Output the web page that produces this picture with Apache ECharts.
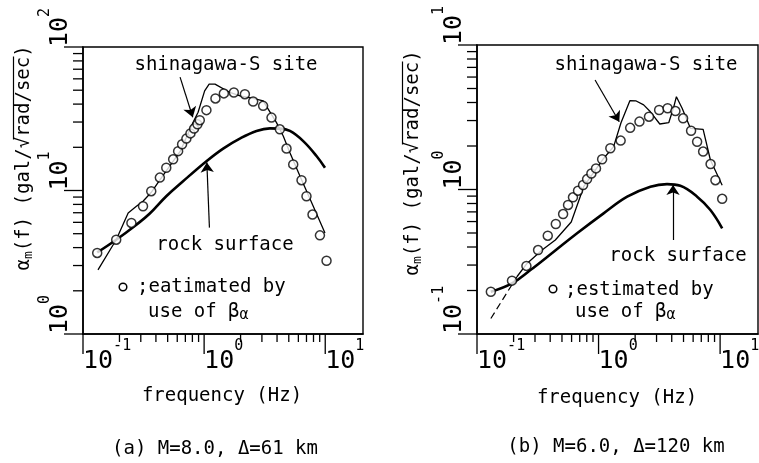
<!DOCTYPE html>
<html><head><meta charset="utf-8">
<script src="https://cdn.jsdelivr.net/npm/echarts@6/dist/echarts.min.js"></script>
<style>html,body{margin:0;padding:0;background:#fff}#c{width:759px;height:463px}</style>
</head><body><div id="c"></div>
<script>
// ---------- panel (a) M=8.0, Δ=61 km ----------
const aCircleFreq = [0.131,0.188,0.251,0.313,0.366,0.431,0.487,0.555,0.610,0.658,0.714,0.771,0.826,0.881,0.921,1.045,1.24,1.455,1.76,2.17,2.54,3.07,3.60,4.22,4.79,5.44,6.37,7.0,7.85,9.04,10.25];
const aCircleAmp  = [3.67,4.54,5.94,7.77,9.89,12.3,14.4,16.5,18.8,21.0,23.0,25.0,27.0,28.9,30.9,36.3,43.8,47.5,48.2,46.9,41.7,38.9,32.2,26.7,19.6,15.2,11.8,9.12,6.80,4.87,3.24];
const aSiteFreq = [0.133,0.188,0.236,0.276,0.313,0.365,0.433,0.634,0.811,0.892,1.01,1.10,1.23,1.63,1.98,2.54,3.07,3.96,4.50,5.11,6.18,7.96,9.95];
const aSiteAmp  = [2.80,4.54,6.98,7.77,8.42,9.68,11.9,18.7,29.9,35.1,49.5,55.1,55.1,48.2,45.6,43.8,42.1,29.7,24.0,18.3,12.6,7.77,5.06];
const aRockFreq = [0.131,0.188,0.276,0.356,0.487,0.670,1.045,1.436,1.97,2.71,3.49,4.22,5.11,6.58,8.47,9.95];
const aRockAmp  = [3.70,4.54,5.78,6.91,9.12,11.6,16.0,19.6,23.0,26.0,27.1,27.0,26.0,22.1,17.4,14.4];

// ---------- panel (b) M=6.0, Δ=120 km ----------
const bCircleFreq = [0.130,0.194,0.255,0.318,0.382,0.445,0.511,0.561,0.616,0.678,0.746,0.805,0.873,0.953,1.07,1.25,1.52,1.82,2.17,2.60,3.15,3.70,4.29,4.96,5.77,6.47,7.25,8.35,9.15,10.4];
const bCircleAmp  = [0.196,0.234,0.296,0.381,0.479,0.577,0.676,0.782,0.883,0.981,1.074,1.18,1.29,1.40,1.62,1.93,2.18,2.67,2.95,3.19,3.55,3.65,3.49,3.11,2.55,2.14,1.83,1.50,1.16,0.862];
const bSiteDashFreq = [0.130,0.213];
const bSiteDashAmp  = [0.128,0.249];
const bSiteFreq = [0.213,0.258,0.343,0.441,0.596,0.755,1.10,1.33,1.53,1.81,2.04,2.35,2.67,3.19,3.78,4.16,4.37,4.87,5.70,7.25,8.32,10.4];
const bSiteAmp  = [0.249,0.308,0.381,0.447,0.596,1.045,1.64,1.98,2.90,4.12,4.10,3.85,3.45,2.84,2.90,3.74,4.39,3.65,2.65,2.61,1.60,1.07];
const bRockFreq = [0.130,0.194,0.275,0.428,0.666,1.10,1.72,2.67,3.66,4.71,6.47,8.32,10.4];
const bRockAmp  = [0.196,0.224,0.277,0.371,0.498,0.684,0.892,1.045,1.09,1.06,0.892,0.721,0.539];

// ---------- axis ticks ----------
const xMajorTicks = [0.1, 1, 10];
const xMinorTicks = [0.2,0.3,0.4,0.5,0.6,0.7,0.8,0.9,2,3,4,5,6,7,8,9];
const aYMajorTicks = [1, 10, 100];
const aYMinorTicks = [2,3,4,5,6,7,8,9,20,30,40,50,60,70,80,90];
const bYMajorTicks = [0.1, 1, 10];
const bYMinorTicks = [0.2,0.3,0.4,0.5,0.6,0.7,0.8,0.9,2,3,4,5,6,7,8,9];
const tickBase = '10';

const MONO = '"DejaVu Sans Mono", monospace';
const zip = (a, b) => a.map((v, i) => [v, b[i]]);
function expLabel(v) { const e = Math.round(Math.log10(v)); return '{b|' + tickBase + '}{e|' + e + '}'; }
const labelRich = {
  b: {fontFamily: MONO, fontSize: 25, lineHeight: 44, color: '#000'},
  e: {fontFamily: MONO, fontSize: 15, lineHeight: 17, verticalAlign: 'top', color: '#000'}
};

function xAxisCfg(gi) {
  return {type: 'log', logBase: 10, gridIndex: gi, min: 0.1, max: 20.5,
    axisLine: {show: true, lineStyle: {color: '#000', width: 1.6}},
    axisTick: {show: false}, splitLine: {show: false}, minorTick: {show: false},
    axisLabel: {formatter: expLabel, align: 'left', verticalAlign: 'top', margin: 5,
      showMaxLabel: false, showMinLabel: true, rich: labelRich}};
}
function yAxisCfg(gi, mn, mx) {
  return {type: 'log', logBase: 10, gridIndex: gi, min: mn, max: mx,
    axisLine: {show: true, lineStyle: {color: '#000', width: 1.6}},
    axisTick: {show: false}, splitLine: {show: false}, minorTick: {show: false},
    axisLabel: {formatter: expLabel, rotate: 90, align: 'left', verticalAlign: 'bottom', margin: 1,
      showMaxLabel: true, showMinLabel: true, rich: labelRich}};
}
function tickSeries(gi, dim, majors, minors, fixedVal, majLen, minLen) {
  const mk = (v, L) => dim === 'x' ? [v, fixedVal, L] : [fixedVal, v, L];
  const data = majors.map(v => mk(v, majLen)).concat(minors.map(v => mk(v, minLen)));
  return {type: 'custom', xAxisIndex: gi, yAxisIndex: gi, silent: true, clip: false, z: 6,
    renderItem: function (params, api) {
      const p = api.coord([api.value(0), api.value(1)]);
      const L = api.value(2);
      const shape = dim === 'x' ? {x1: p[0], y1: p[1], x2: p[0], y2: p[1] + L}
                                : {x1: p[0] - L, y1: p[1], x2: p[0], y2: p[1]};
      return {type: 'line', shape: shape, style: {stroke: '#000', lineWidth: 1.3}};
    }, data: data};
}
function circles(gi, f, a) {
  return {type: 'scatter', xAxisIndex: gi, yAxisIndex: gi, data: zip(f, a), symbol: 'circle', symbolSize: 9,
    itemStyle: {color: '#fff', borderColor: '#000', borderWidth: 1.5}, z: 4, silent: true};
}
function line(gi, f, a, w, dash, smooth, arrows) {
  const s = {type: 'line', xAxisIndex: gi, yAxisIndex: gi, data: zip(f, a), symbol: 'none', smooth: smooth,
    lineStyle: {color: '#000', width: w, type: dash ? [7, 4] : 'solid'}, z: 3, silent: true};
  if (arrows) {
    s.markLine = {silent: true, symbol: ['none', 'arrow'], symbolSize: 10, label: {show: false},
      lineStyle: {color: '#000', width: 1.2, type: 'solid'},
      data: arrows.map(p => [{coord: p[0]}, {coord: p[1]}])};
  }
  return s;
}
function txt(x, y, s, align) {
  return {type: 'text', x: x, y: y, style: {text: s, font: '19px ' + MONO, fill: '#000',
    align: align || 'center', verticalAlign: 'middle', textAlign: align || 'center', textVerticalAlign: 'middle'}};
}
function subTxt(x, y, main, sub) {
  return {type: 'text', x: x, y: y, style: {text: '{n|' + main + '}{s|' + sub + '}', fill: '#000',
    align: 'left', verticalAlign: 'middle', textAlign: 'left', textVerticalAlign: 'middle',
    rich: {n: {fontFamily: MONO, fontSize: 19, lineHeight: 22, color: '#000'},
           s: {fontFamily: MONO, fontSize: 15, lineHeight: 12, verticalAlign: 'bottom', color: '#000'}}}};
}
function yTitle(cx, cy) {
  const x0 = -112.5;
  return {type: 'group', x: cx, y: cy, rotation: Math.PI / 2, children: [
    {type: 'text', x: x0, y: 0, style: {text: '{a|α}{s|m}{a|(f) (gal/√rad/sec)}', fill: '#000',
      align: 'left', verticalAlign: 'middle', textAlign: 'left', textVerticalAlign: 'middle',
      rich: {a: {fontFamily: MONO, fontSize: 19, lineHeight: 22, color: '#000'},
             s: {fontFamily: MONO, fontSize: 13, lineHeight: 10, verticalAlign: 'bottom', color: '#000'}}}},
    {type: 'line', shape: {x1: x0 + 131, y1: -10.5, x2: x0 + 214, y2: -10.5}, style: {stroke: '#000', lineWidth: 1.2}}
  ]};
}
function dot(cx, cy) {
  return {type: 'circle', shape: {cx: cx, cy: cy, r: 3.8}, style: {fill: '#fff', stroke: '#000', lineWidth: 1.5}};
}

const chart = echarts.init(document.getElementById('c'), null, {renderer: 'canvas'});
const option = {
  animation: false,
  backgroundColor: '#fff',
  grid: [
    {left: 83, top: 47, width: 280, height: 287, show: true, borderColor: '#000', borderWidth: 1.4, backgroundColor: 'transparent', containLabel: false, outerBoundsMode: 'none'},
    {left: 477, top: 45, width: 281, height: 289, show: true, borderColor: '#000', borderWidth: 1.4, backgroundColor: 'transparent', containLabel: false, outerBoundsMode: 'none'}
  ],
  xAxis: [xAxisCfg(0), xAxisCfg(1)],
  yAxis: [yAxisCfg(0, 1, 100), yAxisCfg(1, 0.1, 10)],
  series: [
    line(0, aSiteFreq, aSiteAmp, 1.3, false, false, [[[0.633, 61.7], [0.806, 32.4]]]),
    line(0, aRockFreq, aRockAmp, 2.6, false, 0.4, [[[1.106, 5.51], [1.053, 15.7]]]),
    circles(0, aCircleFreq, aCircleAmp),
    line(1, bSiteDashFreq, bSiteDashAmp, 1.2, true, false, null),
    line(1, bSiteFreq, bSiteAmp, 1.3, false, false, [[[0.936, 5.73], [1.48, 2.94]]]),
    line(1, bRockFreq, bRockAmp, 2.6, false, 0.4, [[[4.10, 0.447], [4.10, 1.074]]]),
    circles(1, bCircleFreq, bCircleAmp),
    tickSeries(0, 'x', xMajorTicks, xMinorTicks, 1, 20, 8),
    tickSeries(0, 'y', aYMajorTicks, aYMinorTicks, 0.1, 19, 10),
    tickSeries(1, 'x', xMajorTicks, xMinorTicks, 0.1, 20, 8),
    tickSeries(1, 'y', bYMajorTicks, bYMinorTicks, 0.1, 19, 10)
  ],
  graphic: [
    txt(226, 65, 'shinagawa-S site'),
    txt(225, 245, 'rock surface'),
    dot(123, 287),
    txt(137, 287, ';eatimated by', 'left'),
    subTxt(148, 312, 'use of β', 'α'),
    txt(222, 396, 'frequency (Hz)'),
    txt(215, 449, '(a) M=8.0, Δ=61 km'),
    yTitle(24, 158),
    txt(646, 65, 'shinagawa-S site'),
    txt(678, 256, 'rock surface'),
    dot(553, 289),
    txt(565, 290, ';estimated by', 'left'),
    subTxt(575, 312, 'use of β', 'α'),
    txt(617, 398, 'frequency (Hz)'),
    txt(616, 447, '(b) M=6.0, Δ=120 km'),
    yTitle(413, 163)
  ]
};
chart.setOption(option);
</script></body></html>
